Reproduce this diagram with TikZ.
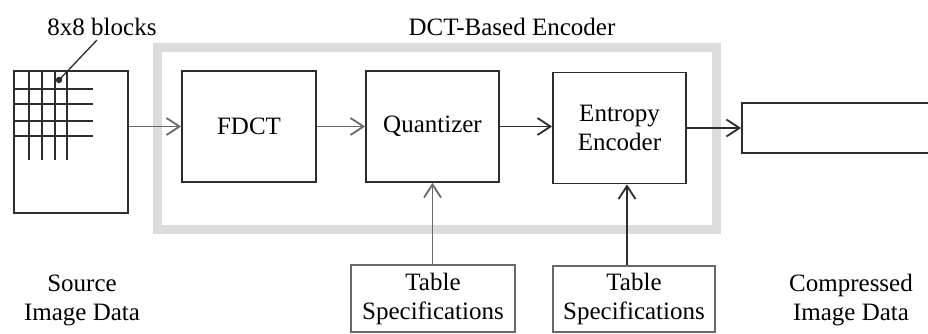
\documentclass[tikz,border=0pt]{standalone}
\usepackage{fontspec}
\setmainfont{Liberation Serif}
\usetikzlibrary{arrows.meta}
\definecolor{dk}{RGB}{45,45,45}
\definecolor{md}{RGB}{105,105,105}
\definecolor{fr}{RGB}{220,220,220}
\begin{document}
\begin{tikzpicture}[x=1pt,y=-1pt,
  every node/.style={font=\fontsize{25}{29}\selectfont, align=center, inner sep=0pt},
  blk/.style={draw=dk, line width=1.8pt, rectangle},
  tbl/.style={draw=md, line width=1.6pt, rectangle},
  arr/.style={line width=1.8pt, -{Straight Barb[length=13pt,width=17pt]}},
  grid/.style={line width=1.8pt, draw=dk}
]
\useasboundingbox (0,0) rectangle (928,334);
\fill[white] (0,0) rectangle (928,334);
% encoder frame
\node[draw=fr, line width=9pt, minimum width=559pt, minimum height=181pt] (frame) at (436.5,138.5) {};
\node (enclab) at (512,27) {DCT-Based Encoder};
% source image
\node[blk, minimum width=114pt, minimum height=142pt] (src) at (71,142) {};
\foreach \x in {29,42,55,67} \draw[grid] (\x,71) -- (\x,160);
\foreach \y in {89,104,121,136} \draw[grid] (14,\y) -- (93,\y);
\fill[dk] (59,80) circle (3.2pt);
\coordinate (dot) at (59,80);
\node (blk8) at (102,27) {8x8 blocks};
\draw[dk, line width=1.3pt] (97,40) -- (dot);
% blocks
\node[blk, minimum width=134pt, minimum height=111pt] (fdct) at (249,126.5) {FDCT};
\node[blk, minimum width=133pt, minimum height=111pt] (quant) at (432.5,126.5) {Quantizer};
\node[blk, minimum width=133pt, minimum height=111pt] (ent) at (619.5,128) {Entropy\\Encoder};
\node[blk, minimum width=198pt, minimum height=50pt] (out) at (841,128) {};
\node[tbl, minimum width=164pt, minimum height=67pt] (tab1) at (433,298.5) {Table\\Specifications};
\node[tbl, minimum width=162pt, minimum height=66pt] (tab2) at (634,299) {Table\\Specifications};
% labels
\node (srclab) at (82,300) {Source\\Image Data};
\node (outlab) at (851,300) {Compressed\\Image Data};
% arrows
\draw[arr, md] (fdct.west -| src.east) -- (fdct.west);
\draw[arr, md] (fdct.east) -- (quant.west);
\draw[arr, dk] (quant.east) -- (quant.east -| ent.west);
\draw[arr, dk] (ent.east |- out.west) -- (out.west);
\draw[arr, md] (tab1.north -| quant.south) -- (quant.south);
\draw[arr, dk] ([xshift=-7pt]tab2.north) -- ([xshift=-7pt]tab2.north |- ent.south);
\end{tikzpicture}
\end{document}
